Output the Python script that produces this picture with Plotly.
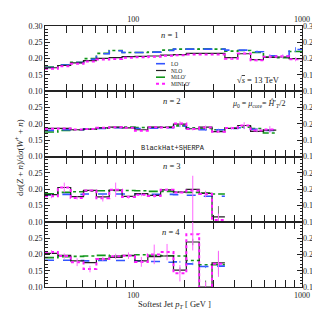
import math
import plotly.graph_objects as go

# ---------------- data ----------------
EDGES = [30.0, 35.75, 42.60, 50.76, 60.49, 72.08, 85.89, 102.35, 121.96, 145.33,
         173.18, 206.36, 245.9, 293.0, 349.2, 416.1, 495.8, 590.8, 704.0, 838.9, 1000.0]

PANEL_LABELS = ["n = 1", "n = 2", "n = 3", "n = 4"]
SERIES = ["LO", "NLO", "MiLO′", "MINLO′"]

LO_1 = [0.173, 0.180, 0.188, 0.198, 0.215, 0.224, 0.219, 0.219, 0.220, 0.225,
        0.229, 0.229, 0.229, 0.229, 0.226, 0.226, 0.221, 0.209, 0.207, 0.228]
NLO_1 = [0.172, 0.179, 0.187, 0.194, 0.201, 0.203, 0.206, 0.207, 0.208, 0.211,
         0.212, 0.216, 0.216, 0.216, 0.203, 0.215, 0.197, 0.204, 0.205, 0.200]
MILO_1 = [0.174, 0.181, 0.189, 0.200, 0.216, 0.225, 0.219, 0.219, 0.220, 0.226,
          0.229, 0.229, 0.230, 0.229, 0.223, 0.225, 0.219, 0.205, 0.203, 0.222]
MINLO_1 = [0.169, 0.177, 0.184, 0.191, 0.197, 0.199, 0.203, 0.204, 0.206, 0.209,
           0.210, 0.213, 0.213, 0.213, 0.200, 0.216, 0.195, 0.206, 0.207, 0.198]

LO_2 = [0.180, 0.182, 0.182, 0.184, 0.186, 0.188, 0.188, 0.186, 0.187, 0.188,
        0.193, 0.186, 0.182, 0.182, 0.186, 0.188, 0.183, 0.180]
NLO_2 = [0.186, 0.186, 0.182, 0.184, 0.188, 0.190, 0.188, 0.182, 0.190, 0.189,
         0.199, 0.185, 0.190, 0.176, 0.186, 0.195, 0.177, 0.181]
MILO_2 = [0.175, 0.180, 0.182, 0.184, 0.187, 0.189, 0.190, 0.189, 0.189, 0.190,
          0.194, 0.188, 0.186, 0.182, 0.187, 0.190, 0.186, 0.172]
MINLO_2 = [0.185, 0.186, 0.183, 0.184, 0.188, 0.190, 0.188, 0.179, 0.190, 0.189,
           0.201, 0.184, 0.189, 0.176, 0.187, 0.195, 0.180, 0.183]

LO_3 = [0.182, 0.184, 0.184, 0.185, 0.185, 0.185, 0.185, 0.185, 0.184, 0.184,
        0.183, 0.181, 0.178, 0.178]
NLO_3 = [0.183, 0.205, 0.177, 0.196, 0.176, 0.197, 0.178, 0.186, 0.181, 0.198,
         0.191, 0.199, 0.187, 0.115]
MILO_3 = [0.186, 0.190, 0.192, 0.194, 0.195, 0.196, 0.196, 0.195, 0.193, 0.193,
          0.192, 0.190, 0.188, 0.185]
MINLO_3 = [0.178, 0.205, 0.173, 0.196, 0.172, 0.198, 0.176, 0.183, 0.179, 0.198,
           0.190, 0.196, 0.185, 0.105]

LO_4 = [0.182, 0.182, 0.181, 0.180, 0.181, 0.181, 0.181, 0.180, 0.178, 0.176,
        0.177, 0.171, 0.163, 0.164]
NLO_4 = [0.203, 0.197, 0.180, 0.175, 0.186, 0.191, 0.197, 0.180, 0.193, 0.195,
         0.152, 0.238, 0.100, 0.174]
MILO_4 = [0.190, 0.193, 0.194, 0.195, 0.197, 0.195, 0.196, 0.199, 0.197, 0.196,
          0.195, 0.181, 0.168, 0.168]
MINLO_4 = [0.207, 0.195, 0.176, 0.155, 0.186, 0.194, 0.196, 0.177, 0.200, 0.207,
           0.142, 0.262, 0.095, 0.171]

# uncertainties (0 = none drawn)
LO_ERR_1 = [0]*16 + [0.004, 0.004, 0.005, 0.007]
MINLO_ERR_1 = [0]*14 + [0.003, 0.004, 0.004, 0.005, 0.005, 0.006]
LO_ERR_2 = [0]*10 + [0.003, 0.002, 0.003, 0.003, 0.003, 0.004, 0.004, 0.005]
MINLO_ERR_2 = [0]*9 + [0.003, 0.007, 0.004, 0.006, 0.004, 0.004, 0.010, 0.006, 0.010]
MINLO_ERR_3 = [0.006, 0.015, 0.005, 0.004, 0.010, 0.022, 0.005, 0.005, 0.005, 0.004,
               0.004, 0.045, 0.010, 0.020]
MINLO_ERRM_3 = [0.006, 0.015, 0.005, 0.004, 0.010, 0.022, 0.005, 0.005, 0.005, 0.004,
                0.004, 0.110, 0.010, 0.020]
NLO_ERR_3 = [0]*13 + [0.033]
NLO_ERRM_3 = [0]*13 + [0.020]
MINLO_ERR_4 = [0.006, 0.008, 0.012, 0.010, 0.006, 0.008, 0.010, 0.015, 0.030, 0.025,
               0.025, 0.050, 0.020, 0.040]
NLO_ERR_4 = [0]*10 + [0.008, 0.010, 0.020, 0.035]
LO_ERR_4 = [0]*10 + [0.003, 0.004, 0.005, 0.005]

DATA = [
    (LO_1, NLO_1, MILO_1, MINLO_1, LO_ERR_1, None, None, MINLO_ERR_1, None),
    (LO_2, NLO_2, MILO_2, MINLO_2, LO_ERR_2, None, None, MINLO_ERR_2, None),
    (LO_3, NLO_3, MILO_3, MINLO_3, None, (NLO_ERR_3, NLO_ERRM_3), None, MINLO_ERR_3, MINLO_ERRM_3),
    (LO_4, NLO_4, MILO_4, MINLO_4, LO_ERR_4, (NLO_ERR_4, NLO_ERR_4), None, MINLO_ERR_4, None),
]

# ---------------- styling ----------------
W, H = 320, 309
ML, MR, MT, MB = 37, 26, 18, 30
PW, PH = W - ML - MR, H - MT - MB

C_LO = "#3355ff"
C_NLO = "#222222"
C_MILO = "#11961a"
C_MINLO = "#ff1cff"
SERIF = "Liberation Serif"
TXT = "#222222"

STYLES = {
    "LO": dict(color=C_LO, dash="dash", width=1.6),
    "NLO": dict(color=C_NLO, dash="solid", width=1.2),
    "MiLO′": dict(color=C_MILO, dash="dashdot", width=1.6),
    "MINLO′": dict(color=C_MINLO, dash="dot", width=2.0),
}
ERR_COL = {"LO": "#5577ff", "NLO": "#777777", "MiLO′": C_MILO, "MINLO′": "#ff66ff"}


def px(xp):
    return (xp - ML) / PW


def py(yp):
    return (H - MB - yp) / PH


fig = go.Figure()

for i, row in enumerate(DATA):
    xa = "x" if i == 0 else f"x{i+1}"
    ya = "y" if i == 0 else f"y{i+1}"
    vals = row[:4]
    errs = {"LO": row[4], "NLO": row[5], "MiLO′": row[6], "MINLO′": row[7]}
    errm = {"MINLO′": row[8]}
    order = ["MiLO′", "LO", "NLO", "MINLO′"]
    for name in order:
        v = vals[SERIES.index(name)]
        n = len(v)
        xs = EDGES[: n + 1]
        ys = list(v) + [v[-1]]
        fig.add_trace(go.Scatter(x=xs, y=ys, mode="lines", line_shape="hv",
                                 line=STYLES[name], xaxis=xa, yaxis=ya,
                                 showlegend=False, hoverinfo="skip"))
        e = errs.get(name)
        if e is not None:
            if isinstance(e, tuple):
                eplus, eminus = e
            else:
                eplus = e
                eminus = errm.get(name) or e
            centers = [math.sqrt(EDGES[k] * EDGES[k + 1]) for k in range(n)]
            fig.add_trace(go.Scatter(
                x=centers, y=list(v), mode="markers",
                marker=dict(size=1, color="rgba(0,0,0,0)"),
                error_y=dict(type="data", array=eplus, arrayminus=eminus,
                             symmetric=False, color=ERR_COL[name],
                             thickness=1.0, width=0),
                xaxis=xa, yaxis=ya, showlegend=False, hoverinfo="skip"))

XRANGE = [math.log10(30), math.log10(1000)]
MINOR_X = [40, 50, 60, 70, 80, 90, 200, 300, 400, 500, 600, 700, 800, 900]
tickfont = dict(family=SERIF, size=8, color=TXT)

layout = dict(
    width=W, height=H,
    margin=dict(l=ML, r=MR, t=MT, b=MB, pad=0, autoexpand=False),
    paper_bgcolor="white", plot_bgcolor="white",
    showlegend=False, template="none",
)

for i in range(4):
    xk = "xaxis" if i == 0 else f"xaxis{i+1}"
    yk = "yaxis" if i == 0 else f"yaxis{i+1}"
    ya = "y" if i == 0 else f"y{i+1}"
    xa = "x" if i == 0 else f"x{i+1}"
    dom = [1 - (i + 1) / 4, 1 - i / 4]
    layout[xk] = dict(
        type="log", range=XRANGE, anchor=ya, domain=[0, 1], automargin=False,
        side="top" if i == 0 else "bottom",
        showline=True, linecolor=TXT, linewidth=1, mirror="allticks",
        ticks="inside", ticklen=7, tickcolor=TXT, tickwidth=1,
        tickvals=[100, 1000], ticktext=["100", "1000"],
        showticklabels=(i in (0, 3)), tickfont=tickfont, color=TXT,
        minor=dict(tickvals=MINOR_X, ticks="inside", ticklen=3.5,
                   tickcolor=TXT, tickwidth=1, showgrid=False),
        showgrid=False, zeroline=False, fixedrange=True,
    )
    if i != 0:
        layout[xk]["matches"] = "x"
    yt = [0.10, 0.15, 0.20, 0.25, 0.30] if i == 0 else [0.10, 0.15, 0.20, 0.25]
    layout[yk] = dict(
        range=[0.10, 0.30], domain=dom, anchor=xa, automargin=False,
        showline=True, linecolor=TXT, linewidth=1, mirror="allticks",
        ticks="inside", ticklen=5, tickcolor=TXT, tickwidth=1,
        tickvals=yt, tickformat=".2f", tickfont=tickfont, color=TXT,
        minor=dict(dtick=0.01, tick0=0, ticks="inside", ticklen=2.5,
                   tickcolor=TXT, tickwidth=0.8, showgrid=False),
        showgrid=False, zeroline=False, fixedrange=True,
    )
    # right-hand labels
    rk = f"yaxis{i+5}"
    layout[rk] = dict(
        range=[0.10, 0.30], overlaying=ya, side="right", anchor=xa,
        showline=False, ticks="", tickvals=yt, tickformat=".2f", automargin=False,
        tickfont=tickfont, color=TXT, showgrid=False, zeroline=False, fixedrange=True,
    )
    fig.add_trace(go.Scatter(x=[EDGES[0]], y=[0.05], mode="markers",
                             marker=dict(size=1, color="rgba(0,0,0,0)"),
                             xaxis=xa, yaxis=f"y{i+5}", showlegend=False,
                             hoverinfo="skip"))

fig.update_layout(**layout)

# ---------------- annotations ----------------
ann = []
label_pos = [(162, 27), (164, 93), (164, 157.5), (163, 224)]
for lab, (xp, yp) in zip(PANEL_LABELS, label_pos):
    n_txt = "<i>n</i>" + lab[1:]
    ann.append(dict(x=px(xp), y=py(yp), text=n_txt,
                    font=dict(family=SERIF, size=8.5, color=TXT)))

ann.append(dict(x=px(250), y=py(72),
                text="√<span style='text-decoration:overline'><i>s</i></span> = 13 TeV",
                font=dict(family=SERIF, size=8.5, color=TXT)))
ann.append(dict(x=px(250), y=py(96),
                text="<i>μ</i><sub>0</sub> = <i>μ</i><sub>core</sub>= <i>Ĥ</i>′<sub><i>T</i></sub>/2",
                font=dict(family=SERIF, size=8, color=TXT)))
ann.append(dict(x=px(165), y=py(139.5), text="BlackHat+SHERPA",
                font=dict(family="Liberation Mono", size=7, color=TXT)))
ann.append(dict(x=px(11), y=py(150), textangle=-90,
                text="d<i>σ</i>(<i>Z</i> + <i>n</i>)/d<i>σ</i>(<i>W</i><sup>+</sup> + <i>n</i>)",
                font=dict(family=SERIF, size=9, color=TXT)))
ann.append(dict(x=px(166), y=py(296),
                text="Softest Jet <i>p<sub>T</sub></i> [ GeV ]",
                font=dict(family=SERIF, size=8.5, color=TXT)))

# legend (manual, compact)
leg_rows = [55.7, 62.5, 69.2, 75.7]
shapes = []
for name, yp in zip(SERIES, leg_rows):
    st = STYLES[name]
    shapes.append(dict(type="line", xref="paper", yref="paper",
                       x0=px(148), x1=px(158), y0=py(yp), y1=py(yp),
                       line=dict(color=st["color"], dash=st["dash"], width=st["width"])))
    ann.append(dict(x=px(160.5), y=py(yp), xanchor="left", text=name,
                    font=dict(family=SERIF, size=5.5, color=TXT)))

for a in ann:
    a.setdefault("xref", "paper")
    a.setdefault("yref", "paper")
    a.setdefault("xanchor", "center")
    a.setdefault("yanchor", "middle")
    a.setdefault("showarrow", False)
fig.update_layout(annotations=ann, shapes=shapes)

fig.write_html("out.html")
